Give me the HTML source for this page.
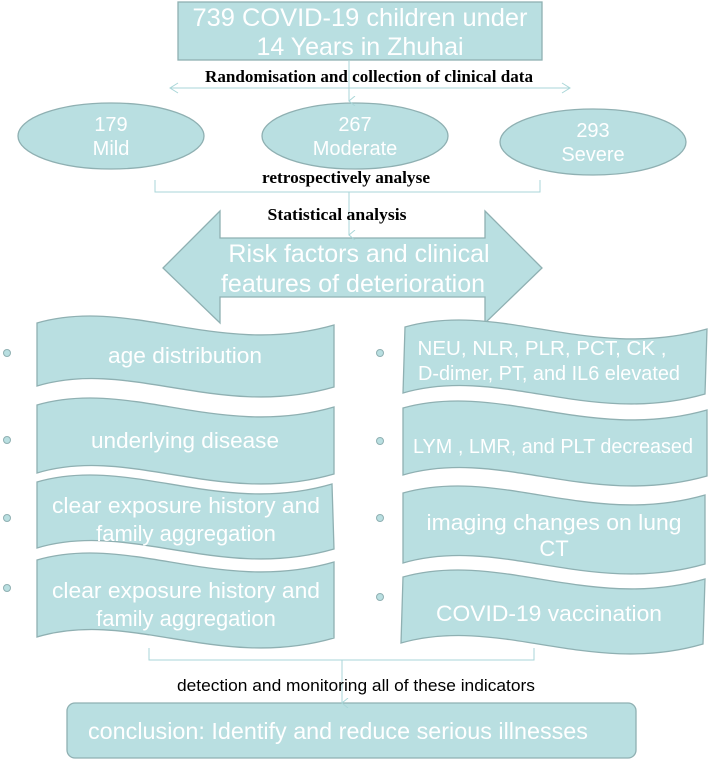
<!DOCTYPE html>
<html><head><meta charset="utf-8"><style>
html,body{margin:0;padding:0;background:#fff;}
svg{display:block;}
.w{fill:#fff;font-family:"Liberation Sans",Arial,sans-serif;}
.b{fill:#000;font-family:"Liberation Serif",serif;font-weight:bold;font-size:17px;}
</style></head><body>
<svg width="709" height="761" viewBox="0 0 709 761" xmlns="http://www.w3.org/2000/svg">
<defs>
<marker id="ah" markerWidth="10" markerHeight="10" refX="5" refY="8" orient="auto" markerUnits="userSpaceOnUse">
<path d="M0,2 L5,8 L10,2" fill="none" stroke="#a9d6d8" stroke-width="1"/>
</marker>
</defs>
<g fill="#b9dfe1" stroke="#8fb0b2" stroke-width="1.3">
<rect x="178" y="2" width="364" height="58"/>
<ellipse cx="111" cy="136" rx="93" ry="33"/>
<ellipse cx="355" cy="136" rx="93" ry="33"/>
<ellipse cx="593" cy="142" rx="93" ry="33"/>
<path d="M163,268 L220,211 L220,238 L485,238 L485,211 L542,268 L485,323 L485,297 L220,297 L220,323 Z"/>
<path d="M37,323 C130,296 220,358 334,325 L334,387 C220,420 130,358 37,386 Z"/>
<path d="M37,405 C130,378 220,440 334,407 L334,474 C220,507 130,445 37,473 Z"/>
<path d="M37,482 C130,455 220,517 332,484 L334,549 C220,582 130,520 37,548 Z"/>
<path d="M37,560 C130,533 220,595 334,562 L334,638 C220,671 130,609 37,637 Z"/>
<path d="M405,327 C500,300 590,362 707,329 L705,394 C590,427 500,365 403,393 Z"/>
<path d="M403,408 C500,381 590,443 707,410 L707,476 C590,509 500,447 403,475 Z"/>
<path d="M403,493 C500,466 590,528 705,495 L705,564 C590,597 500,535 403,563 Z"/>
<path d="M403,577 C500,550 590,612 705,579 L703,644 C590,677 500,615 401,643 Z"/>
<rect x="67" y="703" width="569" height="55" rx="8"/>
</g>
<g fill="#b9dfe1" stroke="#8fb0b2" stroke-width="1">
<circle cx="7" cy="353" r="3.5"/><circle cx="7" cy="440" r="3.5"/><circle cx="7" cy="518" r="3.5"/><circle cx="7" cy="588" r="3.5"/>
<circle cx="380" cy="353" r="3.5"/><circle cx="380" cy="441" r="3.5"/><circle cx="380" cy="518" r="3.5"/><circle cx="380" cy="597" r="3.5"/>
</g>
<g fill="none" stroke="#a9d6d8" stroke-width="1">
<line x1="170" y1="88" x2="570" y2="88"/>
<path d="M178,83 L170,88 L178,93 M562,83 L570,88 L562,93"/>
<line x1="349" y1="60" x2="349" y2="101" marker-end="url(#ah)"/>
<path d="M155,180 L155,192 L540,192 L540,180"/>
<line x1="349" y1="192" x2="349" y2="235" marker-end="url(#ah)"/>
<path d="M149,648 L149,660 L534,660 L534,648"/>
<line x1="342" y1="660" x2="342" y2="703" marker-end="url(#ah)"/>
</g>
<g class="w" text-anchor="middle">
<text x="360" y="26" font-size="25" textLength="335" lengthAdjust="spacingAndGlyphs">739 COVID-19 children under</text>
<text x="360" y="55" font-size="25">14 Years in Zhuhai</text>
<text x="111" y="131" font-size="20">179</text>
<text x="111" y="155" font-size="20">Mild</text>
<text x="355" y="131" font-size="20">267</text>
<text x="355" y="155" font-size="20">Moderate</text>
<text x="593" y="137" font-size="20">293</text>
<text x="593" y="161" font-size="20">Severe</text>
<text x="359" y="262" font-size="25">Risk factors and clinical</text>
<text x="353" y="292" font-size="25">features of deterioration</text>
<text x="185" y="363" font-size="22" textLength="154" lengthAdjust="spacingAndGlyphs">age distribution</text>
<text x="185" y="448" font-size="22" textLength="188" lengthAdjust="spacingAndGlyphs">underlying disease</text>
<text x="186" y="513" font-size="22" textLength="268" lengthAdjust="spacingAndGlyphs">clear exposure history and</text>
<text x="186" y="541" font-size="22">family aggregation</text>
<text x="186" y="598" font-size="22" textLength="268" lengthAdjust="spacingAndGlyphs">clear exposure history and</text>
<text x="186" y="626" font-size="22">family aggregation</text>
<text x="542" y="355" font-size="20" textLength="249" lengthAdjust="spacingAndGlyphs">NEU, NLR, PLR, PCT,  CK ,</text>
<text x="549" y="380" font-size="20" textLength="262" lengthAdjust="spacingAndGlyphs">D-dimer, PT, and IL6 elevated</text>
<text x="553" y="453" font-size="20" textLength="280" lengthAdjust="spacingAndGlyphs">LYM , LMR, and PLT decreased</text>
<text x="554" y="530" font-size="22" textLength="255" lengthAdjust="spacingAndGlyphs">imaging changes on lung</text>
<text x="554" y="556" font-size="22">CT</text>
<text x="549" y="621" font-size="22" textLength="226" lengthAdjust="spacingAndGlyphs">COVID-19 vaccination</text>
<text x="338" y="739" font-size="23" textLength="500" lengthAdjust="spacingAndGlyphs">conclusion: Identify and reduce serious illnesses</text>
</g>
<text class="b" x="369" y="82" text-anchor="middle" textLength="328" lengthAdjust="spacingAndGlyphs">Randomisation and collection of clinical data</text>
<text class="b" x="346" y="183" text-anchor="middle" textLength="168" lengthAdjust="spacingAndGlyphs">retrospectively  analyse</text>
<text class="b" x="337" y="220" text-anchor="middle" textLength="139" lengthAdjust="spacingAndGlyphs">Statistical  analysis</text>
<text x="356" y="691" text-anchor="middle" font-family="Liberation Sans, Arial, sans-serif" font-size="17" fill="#000" textLength="358" lengthAdjust="spacingAndGlyphs">detection and monitoring all of these  indicators</text>
</svg>
</body></html>
